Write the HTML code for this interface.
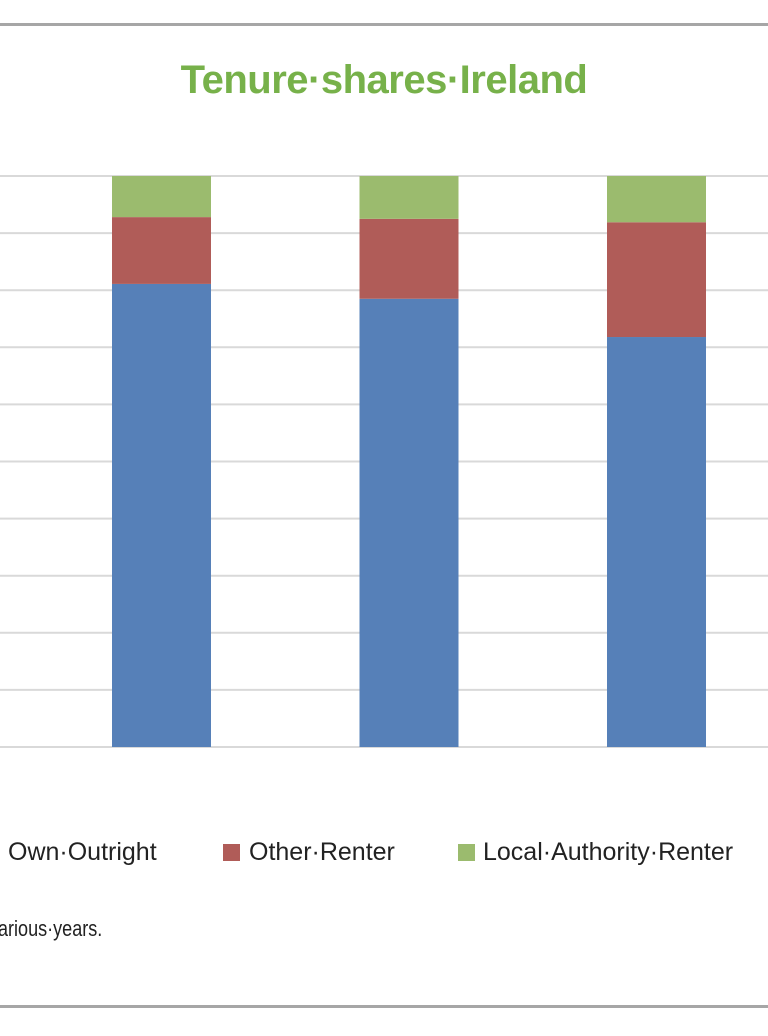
<!DOCTYPE html>
<html><head><meta charset="utf-8">
<style>
html,body{margin:0;padding:0;background:#fff;width:768px;height:1036px;overflow:hidden;position:relative;font-family:"Liberation Sans",sans-serif}
.hl{position:absolute;left:0;width:768px;height:3px;background:#a6a6a6}
#title{position:absolute;left:0;width:768px;top:58px;text-align:center;color:#77b14a;font-weight:bold;font-size:40px;letter-spacing:-0.5px}
.leg{position:absolute;top:838px;font-size:25px;color:#222}
.sw{position:absolute;width:17px;height:17px;top:844px}
#note{position:absolute;left:-2px;top:916px;font-size:22px;color:#222;transform:scaleX(0.82);transform-origin:left top}
</style></head><body>
<div class="hl" style="top:23px"></div>
<div class="hl" style="top:1005px"></div>
<div id="title">Tenure·shares·Ireland</div>
<svg id="chart" width="768" height="1036" style="position:absolute;left:0;top:0"></svg>
<div class="leg" style="left:8px">Own·Outright</div>
<div class="sw" style="left:223px;background:#b05c58"></div>
<div class="leg" style="left:249px">Other·Renter</div>
<div class="sw" style="left:458px;background:#9bbb6e"></div>
<div class="leg" style="left:483px">Local·Authority·Renter</div>
<div id="note">arious·years.</div>
<script>
const categories = ["A","B","C"];
const ownOutright = [81.1, 78.5, 71.8];
const otherRenter = [11.7, 14.0, 20.1];
const localAuthority = [7.2, 7.5, 8.1];
const gridTicks = [0,10,20,30,40,50,60,70,80,90,100];

const svg = document.getElementById('chart');
const NS = 'http://www.w3.org/2000/svg';
const y0 = 747, y1 = 176;
function yScale(v){ return y0 - (v/100)*(y0-y1); }
function xCenter(i){ return 161.5 + i*247.5; }
const barW = 99;

gridTicks.forEach(t=>{
  const l = document.createElementNS(NS,'line');
  
  
  l.setAttribute('x1',0); l.setAttribute('x2',768);
  l.setAttribute('y1',yScale(t)); l.setAttribute('y2',yScale(t));
  l.setAttribute('stroke','#d9d9d9'); l.setAttribute('stroke-width','2');
  svg.appendChild(l);
});

const series = [[ownOutright,'#5680b8','own-outright'],[otherRenter,'#b05c58','other-renter'],[localAuthority,'#9bbb6e','local-authority-renter']];
categories.forEach((c,i)=>{
  let base = 0;
  series.forEach(([vals,col,nm])=>{
    const r = document.createElementNS(NS,'rect');
    
    
    const top = yScale(base+vals[i]);
    r.setAttribute('x', xCenter(i)-barW/2);
    r.setAttribute('y', top);
    r.setAttribute('width', barW);
    r.setAttribute('height', yScale(base)-top);
    r.setAttribute('fill', col);
    svg.appendChild(r);
    base += vals[i];
  });
});
</script>
</body></html>
